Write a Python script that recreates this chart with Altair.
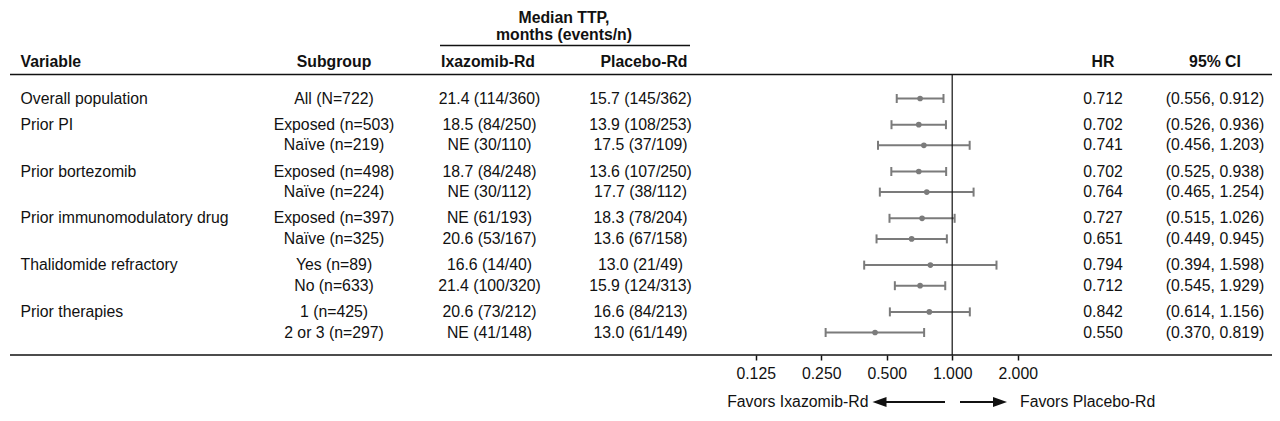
import altair as alt
import pandas as pd

# ---------------- data ----------------
variables = ["Overall population", "Prior PI", "", "Prior bortezomib", "",
             "Prior immunomodulatory drug", "", "Thalidomide refractory", "",
             "Prior therapies", ""]
subgroups = ["All (N=722)", "Exposed (n=503)", "Naïve (n=219)", "Exposed (n=498)",
             "Naïve (n=224)", "Exposed (n=397)", "Naïve (n=325)", "Yes (n=89)",
             "No (n=633)", "1 (n=425)", "2 or 3 (n=297)"]
ixazomib_rd = ["21.4 (114/360)", "18.5 (84/250)", "NE (30/110)", "18.7 (84/248)",
               "NE (30/112)", "NE (61/193)", "20.6 (53/167)", "16.6 (14/40)",
               "21.4 (100/320)", "20.6 (73/212)", "NE (41/148)"]
placebo_rd = ["15.7 (145/362)", "13.9 (108/253)", "17.5 (37/109)", "13.6 (107/250)",
              "17.7 (38/112)", "18.3 (78/204)", "13.6 (67/158)", "13.0 (21/49)",
              "15.9 (124/313)", "16.6 (84/213)", "13.0 (61/149)"]
hr_text = ["0.712", "0.702", "0.741", "0.702", "0.764", "0.727", "0.651",
           "0.794", "0.712", "0.842", "0.550"]
ci_text = ["(0.556, 0.912)", "(0.526, 0.936)", "(0.456, 1.203)", "(0.525, 0.938)",
           "(0.465, 1.254)", "(0.515, 1.026)", "(0.449, 0.945)", "(0.394, 1.598)",
           "(0.545, 1.929)", "(0.614, 1.156)", "(0.370, 0.819)"]
# positions of the drawn points / whiskers as they appear in the figure
hr_point = [0.712, 0.702, 0.741, 0.702, 0.764, 0.727, 0.651, 0.794, 0.712, 0.785, 0.442]
ci_low = [0.556, 0.526, 0.456, 0.525, 0.465, 0.515, 0.449, 0.394, 0.545, 0.517, 0.262]
ci_high = [0.912, 0.936, 1.203, 0.938, 1.254, 1.026, 0.945, 1.598, 0.929, 1.205, 0.743]
tick_values = [0.125, 0.25, 0.5, 1.0, 2.0]

# ---------------- layout ----------------
FONT = "Liberation Sans"
FS = 15.8
GRAY = "#7b7b7b"
INK = "#111111"
L, T = 8, 18          # page position of plot origin
W, H = 1264, 337      # plot area


def px(x):
    return x - L


def py(y):
    return y - T


ROW0, STEP, GAP = 98.5, 20.6, 5.6
group = 0
slots = []
for i, v in enumerate(variables):
    if v:
        group += 1
    slots.append(i + (GAP / STEP) * (group - 1))

df = pd.DataFrame({
    "slot": slots, "variable": variables, "subgroup": subgroups,
    "ixa": ixazomib_rd, "pla": placebo_rd, "hr_t": hr_text, "ci_t": ci_text,
    "hr": hr_point, "lo": ci_low, "hi": ci_high,
})

xs = alt.Scale(type="log", base=2, domain=[0.125, 2], range=[px(755.7), px(1017.7)],
               nice=False, zero=False)
ys = alt.Scale(domain=[0, 10], range=[py(ROW0), py(ROW0 + 10 * STEP)], nice=False, zero=False)
xaxis = alt.Axis(values=tick_values, format=".3f", domain=False, grid=False, ticks=True,
                 tickSize=5, tickWidth=1.5, tickColor=INK, labelFontSize=FS, labelFont=FONT,
                 labelColor=INK, labelPadding=6, labelFlush=False, labelOverlap=False,
                 labelBound=False, title=None)
Y = alt.Y("slot:Q", scale=ys, axis=None)

base = alt.Chart(df)
whisk = base.mark_rule(color=GRAY, strokeWidth=2).encode(
    x=alt.X("lo:Q", scale=xs, axis=xaxis), x2="hi:Q", y=Y)
cap_lo = base.mark_tick(orient="vertical", size=9, thickness=2, color=GRAY, opacity=1).encode(
    x=alt.X("lo:Q", scale=xs, axis=xaxis), y=Y)
cap_hi = base.mark_tick(orient="vertical", size=9, thickness=2, color=GRAY, opacity=1).encode(
    x=alt.X("hi:Q", scale=xs, axis=xaxis), y=Y)
dots = base.mark_circle(size=32, color=GRAY, opacity=1).encode(
    x=alt.X("hr:Q", scale=xs, axis=xaxis), y=Y)


def col(field, x, align):
    return base.mark_text(align=align, baseline="middle", font=FONT, fontSize=FS,
                          color=INK).encode(x=alt.value(px(x)), y=Y, text=f"{field}:N")


cols = [col("variable", 20.5, "left"), col("subgroup", 334, "center"),
        col("ixa", 489.5, "center"), col("pla", 640.5, "center"),
        col("hr_t", 1103, "center"), col("ci_t", 1215, "center")]

one = alt.Chart(pd.DataFrame({"k": [0]}))


def label(text, x, y, align="center", bold=True):
    return one.mark_text(text=text, align=align, baseline="middle", font=FONT, fontSize=FS,
                         fontWeight="bold" if bold else "normal", color=INK).encode(
        x=alt.value(px(x)), y=alt.value(py(y)))


def hline(x1, x2, y, w=1.5):
    return one.mark_rule(color=INK, strokeWidth=w).encode(
        x=alt.value(px(x1)), x2=alt.value(px(x2)), y=alt.value(py(y)))


FAV_Y = 402
headers = [
    label("Median TTP,", 564, 17.5), label("months (events/n)", 564, 35),
    label("Variable", 20.5, 61.5, "left"), label("Subgroup", 334, 61.5),
    label("Ixazomib-Rd", 488, 61.5), label("Placebo-Rd", 644, 61.5),
    label("HR", 1103, 61.5), label("95% CI", 1215, 61.5),
    label("Favors Ixazomib-Rd", 868.5, FAV_Y, "right", False),
    label("Favors Placebo-Rd", 1020, FAV_Y, "left", False),
]
lines = [hline(440, 690, 45.5), hline(10, 1272, 74.5), hline(10, 1272, T + H)]

refline = one.mark_rule(color=INK, strokeWidth=1.2).encode(
    x=alt.datum(1, scale=xs), y=alt.value(py(74.5)), y2=alt.value(H))

arrow_lines = [hline(879, 945, FAV_Y, 2), hline(960, 1000, FAV_Y, 2)]
head_l = one.mark_point(shape="M -1 0 L 1 -0.72 L 1 0.72 Z", size=196, filled=True,
                        color=INK, opacity=1).encode(x=alt.value(px(879.5)), y=alt.value(py(FAV_Y)))
head_r = one.mark_point(shape="M 1 0 L -1 -0.72 L -1 0.72 Z", size=196, filled=True,
                        color=INK, opacity=1).encode(x=alt.value(px(1000)), y=alt.value(py(FAV_Y)))

chart = alt.layer(
    whisk, cap_lo, cap_hi, dots, refline, *cols, *headers, *lines, *arrow_lines, head_l, head_r
).properties(
    width=W, height=H, autosize="none",
    padding={"left": 0, "right": 0, "top": 10, "bottom": 56},
).configure_view(stroke=None)

chart.save("out.html", embed_options={"renderer": "svg", "actions": False})
